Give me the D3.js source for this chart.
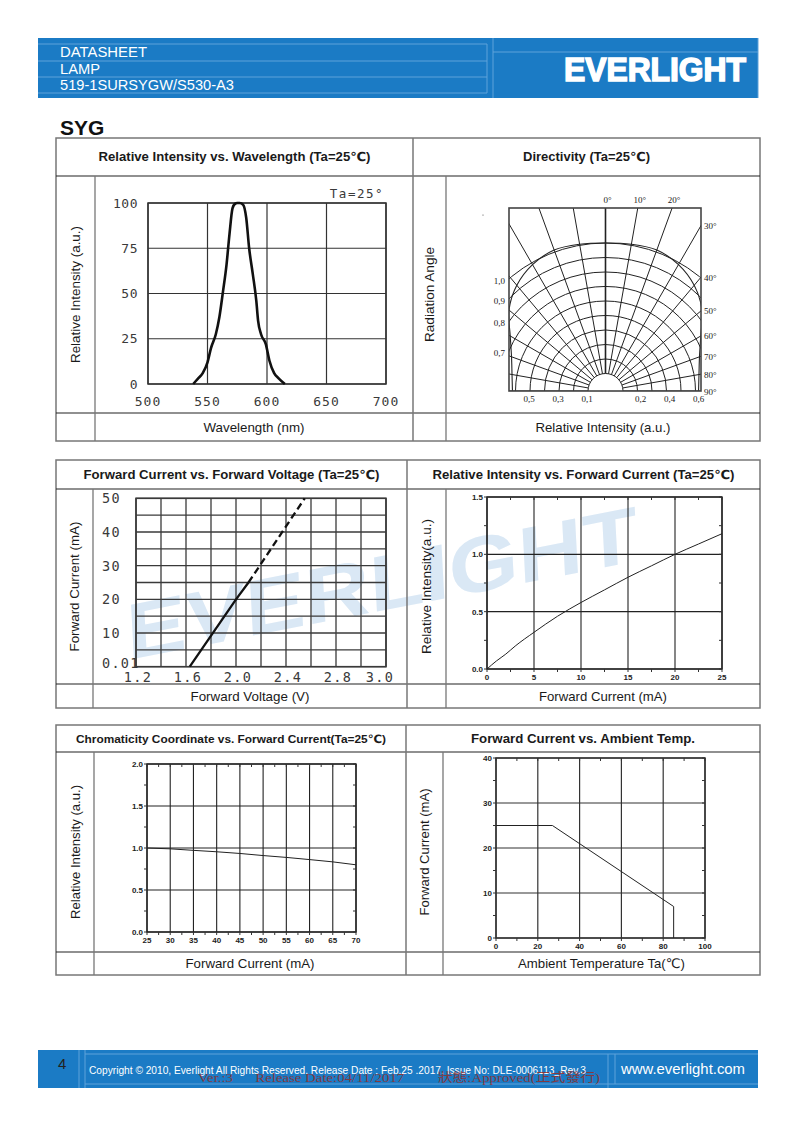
<!DOCTYPE html>
<html><head><meta charset="utf-8">
<script src="https://cdn.jsdelivr.net/npm/d3@7"></script>
<style>body{margin:0;background:#fff}svg{display:block}</style>
</head><body>
<svg id="page" width="794" height="1123"></svg>
<script>
// ---------------- DATA ----------------
const headerLines = ["DATASHEET", "LAMP", "519-1SURSYGW/S530-A3"];
const sectionTitle = "SYG";

// Chart 1: Relative Intensity vs Wavelength
const wlTicks = [500, 550, 600, 650, 700];
const wlIntensityTicks = [0, 25, 50, 75, 100];
const spectrumWavelength = [538, 542, 546, 550, 553, 557, 560, 563, 566, 568.5, 571, 573, 575, 577, 580, 582.5, 585, 588, 591, 592.5, 595, 599, 602, 606, 610, 615];
const spectrumIntensity  = [0, 3, 6, 12, 20, 27.5, 37, 51, 66, 83, 97, 99.5, 100, 100, 99, 92, 75, 61, 46, 35, 27.5, 22, 13, 6, 3, 0];

// Chart 2: Directivity
const dirAngles = [-90, -80, -70, -60, -50, -40, -30, -20, -10, 0, 10, 20, 30, 40, 50, 60, 70, 80, 90];
const dirRings = [0.1, 0.2, 0.3, 0.4, 0.5, 0.6, 0.7, 0.8, 0.9, 1.0];
const patternAngle = [-90, -80, -70, -60, -50, -40, -30, -20, -10, 0, 10, 20, 30, 40, 50, 60, 70, 80, 90];
const patternValue = [0.621, 0.634, 0.669, 0.738, 0.848, 0.931, 0.986, 1.014, 1.007, 1.0, 1.007, 1.014, 0.986, 0.931, 0.848, 0.738, 0.669, 0.634, 0.621];
const dirTopLabels = [0, 10, 20];
const dirSideLabels = [30, 40, 50, 60, 70, 80, 90];
const dirLeftRingLabels = [1.0, 0.9, 0.8, 0.7];
const dirBottomLeftLabels = [0.5, 0.3, 0.1];
const dirBottomRightLabels = [0.2, 0.4, 0.6];

// Chart 3: Forward Current vs Forward Voltage
const vfTickValues = [1.2, 1.6, 2.0, 2.4, 2.8, 3.2];
const vfTickLabels = ["1.2", "1.6", "2.0", "2.4", "2.8", "3.0"];
const ifTickValues = [0, 10, 20, 30, 40, 50];
const ifTickLabels = ["0.01", "10", "20", "30", "40", "50"];
const vfSolidV = [1.63, 2.0, 2.1];
const vfSolidI = [0, 20, 25];
const vfDashV = [2.1, 2.55];
const vfDashI = [25, 50];

// Chart 4: Relative Intensity vs Forward Current
const riCurrentTicks = [0, 5, 10, 15, 20, 25];
const riIntensityTicks = [0.0, 0.5, 1.0, 1.5];
const riCurrent   = [0, 1, 2, 3, 5, 7.5, 10, 12.5, 15, 17.5, 20, 22.5, 25];
const riIntensity = [0, 0.07, 0.13, 0.2, 0.32, 0.46, 0.58, 0.69, 0.8, 0.9, 1.0, 1.09, 1.18];

// Chart 5: Chromaticity Coordinate vs Forward Current
const ccCurrentTicks = [25, 30, 35, 40, 45, 50, 55, 60, 65, 70];
const ccIntensityTicks = [0.0, 0.5, 1.0, 1.5, 2.0];
const ccCurrent   = [25, 30, 35, 40, 45, 50, 55, 60, 65, 70];
const ccIntensity = [1.0, 0.99, 0.972, 0.955, 0.935, 0.91, 0.888, 0.862, 0.835, 0.8];

// Chart 6: Forward Current vs Ambient Temp
const taTicks = [0, 20, 40, 60, 80, 100];
const taCurrentTicks = [0, 10, 20, 30, 40];
const derateTemp    = [0, 27, 85, 85];
const derateCurrent = [25, 25, 7, 0];

// ---------------- DRAW ----------------
const svg = d3.select("#page");
const SANS = "'Liberation Sans', Arial, 'DejaVu Sans', sans-serif";
const MONO = "'DejaVu Sans Mono', monospace";
const BLUE = "#1b7bc5";

// Header
const hdr = svg.append("g");
hdr.append("rect").attr("x", 38).attr("y", 38).attr("width", 720).attr("height", 60).attr("fill", BLUE);
const hl = "#5fa3da";
[[38, 44, 487, 44], [38, 61, 487, 61], [38, 77, 487, 77], [38, 93, 487, 93], [487, 44, 487, 93], [493, 38, 493, 98], [493, 52, 758, 52], [758, 38, 758, 98]]
  .forEach(l => hdr.append("line").attr("x1", l[0]).attr("y1", l[1]).attr("x2", l[2]).attr("y2", l[3]).attr("stroke", hl).attr("stroke-width", 1));
const hdrLens = [87, 40, 174];
headerLines.forEach((t, i) => {
  hdr.append("text").attr("x", 60).attr("y", 57 + i * 16.5).text(t)
    .attr("font-family", SANS).attr("font-size", 14).attr("fill", "#fff")
    .attr("textLength", hdrLens[i]).attr("lengthAdjust", "spacingAndGlyphs");
});
hdr.append("text").attr("x", 564).attr("y", 81).text("EVERLIGHT")
  .attr("font-family", SANS).attr("font-weight", "bold").attr("font-size", 34).attr("fill", "#fff")
  .attr("stroke", "#fff").attr("stroke-width", 1.6)
  .attr("textLength", 182).attr("lengthAdjust", "spacingAndGlyphs");

svg.append("text").attr("x", 60).attr("y", 135).text(sectionTitle)
  .attr("font-family", SANS).attr("font-weight", "bold").attr("font-size", 21).attr("fill", "#111");

// Watermark
svg.append("text").attr("transform", "translate(128,660) rotate(-11) skewX(-8)")
  .text("EVERLIGHT").attr("font-family", SANS).attr("font-weight", "bold").attr("font-size", 78)
  .attr("fill", "#dae8f5").attr("textLength", 520).attr("lengthAdjust", "spacingAndGlyphs");

// Tables
function table(t) {
  const g = svg.append("g");
  const outer = "#777", inner = "#222";
  g.append("rect").attr("x", 56).attr("y", t.y0).attr("width", 704).attr("height", t.y3 - t.y0)
    .attr("fill", "none").attr("stroke", outer).attr("stroke-width", 1.5);
  [t.y1, t.y2].forEach(y => g.append("line").attr("x1", 56).attr("x2", 760).attr("y1", y).attr("y2", y).attr("stroke", inner).attr("stroke-width", 1.1));
  g.append("line").attr("x1", t.xd).attr("x2", t.xd).attr("y1", t.y0).attr("y2", t.y3).attr("stroke", outer).attr("stroke-width", 1.5);
  [t.xl, t.xr].forEach(x => g.append("line").attr("x1", x).attr("x2", x).attr("y1", t.y1).attr("y2", t.y3).attr("stroke", outer).attr("stroke-width", 1.3));
  const txt = (x, y, s, o) => {
    const e = g.append("text").attr("x", x).attr("y", y).text(s).attr("font-family", SANS)
      .attr("font-size", o.fs || 13).attr("fill", "#1a1a1a").attr("text-anchor", "middle");
    if (o.bold) e.attr("font-weight", "bold");
    if (o.rot) e.attr("transform", `rotate(-90,${x},${y})`);
    if (o.len) e.attr("textLength", o.len).attr("lengthAdjust", "spacingAndGlyphs");
    return e;
  };
  const hy = (t.y0 + t.y1) / 2 + 4;
  txt((56 + t.xd) / 2, hy, t.h1, { bold: true, fs: t.hfs1 || 12.5, len: t.hl1 });
  txt((t.xd + 760) / 2, hy, t.h2, { bold: true, fs: t.hfs2 || 12.5, len: t.hl2 });
  const my = (t.y1 + t.y2) / 2;
  txt((56 + t.xl) / 2 + 4.5, my, t.yl1, { rot: true, len: t.yll1 });
  txt((t.xd + t.xr) / 2 + 4.5, my, t.yl2, { rot: true, len: t.yll2 });
  const by = (t.y2 + t.y3) / 2 + 4.5;
  txt((t.xl + t.xd) / 2, by, t.b1, { len: t.bl1 });
  txt((t.xr + 760) / 2, by, t.b2, { len: t.bl2 });
}
table({ y0: 138, y1: 176, y2: 413, y3: 441, xd: 413, xl: 95, xr: 446,
  h1: "Relative Intensity vs. Wavelength (Ta=25℃)", hl1: 272, h2: "Directivity (Ta=25℃)", hl2: 127,
  yl1: "Relative Intensity (a.u.)", yll1: 137, yl2: "Radiation Angle", yll2: 95,
  b1: "Wavelength (nm)", bl1: 101, b2: "Relative Intensity (a.u.)", bl2: 135 });
table({ y0: 460, y1: 489, y2: 684, y3: 708, xd: 407, xl: 93, xr: 446,
  h1: "Forward Current vs. Forward Voltage (Ta=25℃)", hl1: 296, h2: "Relative Intensity vs. Forward Current (Ta=25℃)", hl2: 302,
  yl1: "Forward Current (mA)", yll1: 130, yl2: "Relative Intensity(a.u.)", yll2: 135,
  b1: "Forward Voltage (V)", bl1: 119, b2: "Forward Current (mA)", bl2: 128 });
table({ y0: 725, y1: 752, y2: 952, y3: 975, xd: 406, xl: 94, xr: 443,
  h1: "Chromaticity Coordinate vs. Forward Current(Ta=25℃)", hl1: 310, hfs1: 11.5, h2: "Forward Current vs. Ambient Temp.", hl2: 224, hfs2: 13,
  yl1: "Relative Intensity (a.u.)", yll1: 134, yl2: "Forward Current (mA)", yll2: 127,
  b1: "Forward Current (mA)", bl1: 129, b2: "Ambient Temperature Ta(℃)", bl2: 167 });

// Generic grid helper
function grid(g, x, y, xt, yt, col, w) {
  xt.forEach(v => g.append("line").attr("x1", x(v)).attr("x2", x(v)).attr("y1", y.range()[0]).attr("y2", y.range()[1]).attr("stroke", col).attr("stroke-width", w));
  yt.forEach(v => g.append("line").attr("y1", y(v)).attr("y2", y(v)).attr("x1", x.range()[0]).attr("x2", x.range()[1]).attr("stroke", col).attr("stroke-width", w));
  g.append("rect").attr("x", x.range()[0]).attr("y", y.range()[1]).attr("width", x.range()[1] - x.range()[0])
    .attr("height", y.range()[0] - y.range()[1]).attr("fill", "none").attr("stroke", col).attr("stroke-width", w + 0.3);
}

// ---- Chart 1 ----
{
  const g = svg.append("g");
  const x = d3.scaleLinear([500, 700], [148, 386]);
  const y = d3.scaleLinear([0, 100], [384, 203]);
  grid(g, x, y, wlTicks, wlIntensityTicks, "#333", 1.2);
  wlIntensityTicks.forEach(v => g.append("text").attr("x", 138).attr("y", y(v) + 4.5).attr("text-anchor", "end").text(v)
    .attr("font-family", MONO).attr("font-size", 13).attr("letter-spacing", 0.5).attr("fill", "#3a3a3a"));
  wlTicks.forEach(v => g.append("text").attr("x", x(v)).attr("y", 406).attr("text-anchor", "middle").text(v)
    .attr("font-family", MONO).attr("font-size", 13).attr("letter-spacing", 1).attr("fill", "#3a3a3a"));
  g.append("text").attr("x", 384).attr("y", 198).attr("text-anchor", "end").text("Ta=25°")
    .attr("font-family", MONO).attr("font-size", 12.5).attr("letter-spacing", 1.5).attr("fill", "#3a3a3a");
  const pts = spectrumWavelength.map((w, i) => [x(w), y(spectrumIntensity[i])]);
  g.append("path").attr("d", d3.line().curve(d3.curveMonotoneX)(pts)).attr("fill", "none").attr("stroke", "#111").attr("stroke-width", 2.6);
}

// ---- Chart 2: Directivity ----
{
  const g = svg.append("g");
  const bx0 = 509, bx1 = 701, by0 = 208, by1 = 391;
  const cx = 605.5, cy = 391;
  const r = d3.scaleLinear([0.1, 1.0], [17.5, 148]);
  svg.append("clipPath").attr("id", "dirclip").append("rect").attr("x", bx0).attr("y", by0).attr("width", bx1 - bx0).attr("height", by1 - by0);
  const cg = g.append("g").attr("clip-path", "url(#dirclip)");
  const col = "#222";
  dirRings.forEach(v => cg.append("path")
    .attr("d", d3.arc()({ innerRadius: 0, outerRadius: r(v), startAngle: -Math.PI / 2, endAngle: Math.PI / 2 }).replace(/L0,0Z|Z/g, ""))
    .attr("transform", `translate(${cx},${cy})`).attr("fill", "none").attr("stroke", col).attr("stroke-width", 1));
  dirAngles.forEach(a => {
    const t = a * Math.PI / 180;
    cg.append("line").attr("x1", cx + r(0.1) * Math.sin(t)).attr("y1", cy - r(0.1) * Math.cos(t))
      .attr("x2", cx + 400 * Math.sin(t)).attr("y2", cy - 400 * Math.cos(t)).attr("stroke", col).attr("stroke-width", a === 0 ? 1.6 : 1);
  });
  const pts = patternAngle.map((a, i) => [a * Math.PI / 180, r(patternValue[i])]);
  cg.append("path").attr("d", d3.lineRadial().curve(d3.curveCatmullRom)(pts)).attr("transform", `translate(${cx},${cy})`)
    .attr("fill", "none").attr("stroke", col).attr("stroke-width", 1.1);
  g.append("rect").attr("x", bx0).attr("y", by0).attr("width", bx1 - bx0).attr("height", by1 - by0)
    .attr("fill", "none").attr("stroke", "#444").attr("stroke-width", 1.6);
  const lab = (xx, yy, s, anchor) => g.append("text").attr("x", xx).attr("y", yy).text(s).attr("text-anchor", anchor || "middle")
    .attr("font-family", "'Liberation Serif', serif").attr("font-size", 9).attr("fill", "#222");
  const H = cy - by0, W = bx1 - cx;
  dirTopLabels.forEach(a => lab(cx + H * Math.tan(a * Math.PI / 180) + 2, by0 - 5, a + "°"));
  dirSideLabels.forEach(a => lab(bx1 + 3, cy - W / Math.tan(a * Math.PI / 180) + 3.5, a + "°", "start"));
  dirLeftRingLabels.forEach(v => {
    const dx = cx - bx0; const h = Math.sqrt(r(v) ** 2 - dx * dx);
    lab(bx0 - 4, cy - h + 5, v.toFixed(1).replace(".", ","), "end");
  });
  dirBottomLeftLabels.forEach(v => lab(cx - r(v) - 1, by1 + 11, v.toFixed(1).replace(".", ",")));
  dirBottomRightLabels.forEach(v => lab(cx + r(v) + 3, by1 + 11, v.toFixed(1).replace(".", ",")));
  g.append("circle").attr("cx", 483).attr("cy", 215).attr("r", 0.6).attr("fill", "#444");
}

// ---- Chart 3 ----
{
  const g = svg.append("g");
  const x = d3.scaleLinear([1.2, 3.2], [136, 386]);
  const y = d3.scaleLinear([0, 50], [666.7, 498.3]);
  grid(g, x, y, d3.range(1.2, 3.21, 0.2), d3.range(0, 51, 5), "#3a3a3a", 1.3);
  ifTickValues.forEach((v, i) => g.append("text").attr("x", 102).attr("y", y(v) + (v === 0 ? 1.5 : 5)).text(ifTickLabels[i])
    .attr("font-family", MONO).attr("font-size", 13.5).attr("letter-spacing", 1.3).attr("fill", "#3a3a3a"));
  vfTickValues.forEach((v, i) => g.append("text").attr("x", Math.min(x(v) + 2, 380)).attr("y", 682).attr("text-anchor", "middle")
    .text(vfTickLabels[i]).attr("font-family", MONO).attr("font-size", 13.5).attr("letter-spacing", 1.3).attr("fill", "#3a3a3a"));
  const ln = d3.line();
  g.append("path").attr("d", ln(vfSolidV.map((v, i) => [x(v), y(vfSolidI[i])]))).attr("fill", "none").attr("stroke", "#111").attr("stroke-width", 2.3);
  g.append("path").attr("d", ln(vfDashV.map((v, i) => [x(v), y(vfDashI[i])]))).attr("fill", "none").attr("stroke", "#111")
    .attr("stroke-width", 2.3).attr("stroke-dasharray", "7,4");
}

// small bold label helper for charts 4-6
function smallLabels(g, x, y, xt, yt, fmtY, xLabY) {
  yt.forEach(v => g.append("text").attr("x", x.range()[0] - 4).attr("y", y(v) + 3).attr("text-anchor", "end").text(fmtY(v))
    .attr("font-family", SANS).attr("font-weight", "bold").attr("font-size", 8).attr("fill", "#222"));
  xt.forEach(v => g.append("text").attr("x", x(v)).attr("y", xLabY).attr("text-anchor", "middle").text(v)
    .attr("font-family", SANS).attr("font-weight", "bold").attr("font-size", 8).attr("fill", "#222"));
}
function minorTicks(g, x, y, xm, ym) {
  const [x0, x1] = x.range(), [y0, y1] = y.range();
  xm.forEach(v => {
    g.append("line").attr("x1", x(v)).attr("x2", x(v)).attr("y1", y0).attr("y2", y0 + 3).attr("stroke", "#333");
    g.append("line").attr("x1", x(v)).attr("x2", x(v)).attr("y1", y1).attr("y2", y1 + 3).attr("stroke", "#333");
  });
  ym.forEach(v => {
    g.append("line").attr("y1", y(v)).attr("y2", y(v)).attr("x1", x0 - 3).attr("x2", x0).attr("stroke", "#333");
    g.append("line").attr("y1", y(v)).attr("y2", y(v)).attr("x1", x1 - 3).attr("x2", x1).attr("stroke", "#333");
  });
}

// ---- Chart 4 ----
{
  const g = svg.append("g");
  const x = d3.scaleLinear([0, 25], [487, 722]);
  const y = d3.scaleLinear([0, 1.5], [669, 497]);
  grid(g, x, y, riCurrentTicks, riIntensityTicks, "#222", 1.1);
  minorTicks(g, x, y, d3.range(0, 25.1, 2.5), d3.range(0, 1.51, 0.25));
  smallLabels(g, x, y, riCurrentTicks, riIntensityTicks, v => v.toFixed(1), 680);
  g.append("path").attr("d", d3.line().curve(d3.curveMonotoneX)(riCurrent.map((c, i) => [x(c), y(riIntensity[i])])))
    .attr("fill", "none").attr("stroke", "#222").attr("stroke-width", 1);
}

// ---- Chart 5 ----
{
  const g = svg.append("g");
  const x = d3.scaleLinear([25, 70], [147, 356]);
  const y = d3.scaleLinear([0, 2], [932, 764]);
  grid(g, x, y, ccCurrentTicks, ccIntensityTicks, "#222", 1.1);
  minorTicks(g, x, y, d3.range(25, 70.1, 2.5), d3.range(0, 2.01, 0.25));
  smallLabels(g, x, y, ccCurrentTicks, ccIntensityTicks, v => v.toFixed(1), 943);
  g.append("path").attr("d", d3.line().curve(d3.curveMonotoneX)(ccCurrent.map((c, i) => [x(c), y(ccIntensity[i])])))
    .attr("fill", "none").attr("stroke", "#222").attr("stroke-width", 1);
}

// ---- Chart 6 ----
{
  const g = svg.append("g");
  const x = d3.scaleLinear([0, 100], [496, 705]);
  const y = d3.scaleLinear([0, 40], [938, 758]);
  grid(g, x, y, taTicks, taCurrentTicks, "#333", 1.2);
  minorTicks(g, x, y, d3.range(0, 100.1, 10), d3.range(0, 40.1, 5));
  smallLabels(g, x, y, taTicks, taCurrentTicks, v => v, 949);
  g.append("path").attr("d", d3.line()(derateTemp.map((t, i) => [x(t), y(derateCurrent[i])])))
    .attr("fill", "none").attr("stroke", "#222").attr("stroke-width", 1);
}

// Footer
const ft = svg.append("g");
ft.append("rect").attr("x", 38).attr("y", 1050).attr("width", 720).attr("height", 38).attr("fill", BLUE);
[[79, 1050, 79, 1088], [85, 1050, 85, 1088], [85, 1054, 758, 1054], [85, 1084, 758, 1084], [608, 1054, 608, 1088], [615, 1054, 615, 1084]]
  .forEach(l => ft.append("line").attr("x1", l[0]).attr("y1", l[1]).attr("x2", l[2]).attr("y2", l[3]).attr("stroke", hl).attr("stroke-width", 1));
ft.append("text").attr("x", 58).attr("y", 1069).text("4").attr("font-family", SANS).attr("font-size", 15).attr("fill", "#222");
ft.append("text").attr("x", 89).attr("y", 1074).text("Copyright © 2010, Everlight All Rights Reserved. Release Date : Feb.25 .2017. Issue No: DLE-0006113_Rev.3")
  .attr("font-family", SANS).attr("font-size", 10).attr("fill", "#fff").attr("textLength", 497).attr("lengthAdjust", "spacingAndGlyphs");
ft.append("text").attr("x", 198).attr("y", 1082).text("Ver.:3      Release Date:04/11/2017         狀態:Approved(正式發行)")
  .style("white-space", "pre").attr("xml:space", "preserve")
  .attr("font-family", "'Liberation Serif', 'Noto Sans CJK TC', serif").attr("font-size", 12.5).attr("fill", "#9a2b22").attr("opacity", 0.8)
  .attr("textLength", 402).attr("lengthAdjust", "spacingAndGlyphs");
ft.append("text").attr("x", 621).attr("y", 1074).text("www.everlight.com").attr("font-family", SANS).attr("font-size", 14).attr("fill", "#fff")
  .attr("textLength", 124).attr("lengthAdjust", "spacingAndGlyphs");
</script>
</body></html>
